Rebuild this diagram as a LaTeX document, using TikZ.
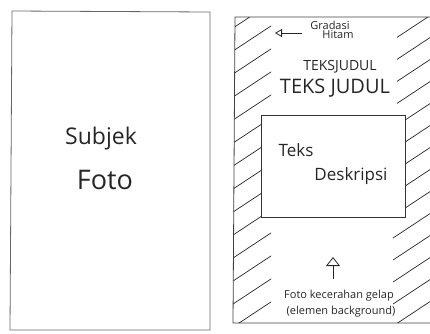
\documentclass[tikz,border=0pt]{standalone}
\usepackage{fontspec}
\setmainfont{Open Sans}
\usetikzlibrary{arrows.meta}
\begin{document}
\begin{tikzpicture}[x=1pt,y=-1pt,
  panel/.style={draw=black!75,line width=0.8pt},
  hatch/.style={draw=black!85,line width=0.7pt},
  lbl/.style={inner sep=0pt,text=black!85},
  pointer/.style={draw=black!85,line width=0.8pt,-{Triangle[open,length=9pt,width=14pt]}},
  lpointer/.style={draw=black!85,line width=0.8pt,-{Triangle[open,length=7pt,width=8pt]}}]
\useasboundingbox (0,0) rectangle (430,333);
% left panel
\draw[panel,draw=black!60] (12,11) -- (210,12) -- (210,330) -- (10,330) -- cycle;
\node[lbl,font=\fontsize{23}{23}\selectfont] (subjek) at (101,139) {Subjek};
\node[lbl,font=\fontsize{27}{27}\selectfont] (foto) at (105,180) {Foto};
% right panel
\draw[panel] (430,17) -- (235,17) -- (233,323) -- (430,323);
\node[panel,draw=black!80,minimum width=144pt,minimum height=102pt,inner sep=0pt] (box) at (333,166) {};
% hatching left strip
\begin{scope}
\clip (235,17) -- (271,17) -- (271,115) -- (261,115) -- (261,217) -- (271,217) -- (271,323) -- (233,323) -- cycle;
\foreach \y in {30,53,76,99,122,145,168,191,214,237,260,283,306,329,352}
  \draw[hatch] (230,\y) -- (280,\y-33);
\end{scope}
% hatching right strip
\begin{scope}
\clip (397,17) -- (430,17) -- (430,323) -- (393,323) -- (393,217) -- (405,217) -- (405,115) -- (397,115) -- cycle;
\foreach \y in {42,64,86,108,130,152,174,196,218,240,262,284,306,328,350}
  \draw[hatch] (390,\y) -- (440,\y-33);
\end{scope}
% labels
\node[lbl,font=\fontsize{11}{11}\selectfont] (gradasi) at (330,25) {Gradasi};
\node[lbl,font=\fontsize{11}{11}\selectfont] (hitam) at (338,35) {Hitam};
\coordinate (gtail) at (302,33);
\coordinate (ghead) at (275,33);
\draw[lpointer] (gtail) -- (ghead);
\node[lbl,font=\fontsize{14}{14}\selectfont] (judul1) at (340,67) {TEKSJUDUL};
\node[lbl,font=\fontsize{20}{20}\selectfont] (judul2) at (335,88) {TEKS JUDUL};
\node[lbl,font=\fontsize{17}{17}\selectfont] (teks) at (296,150) {Teks};
\node[lbl,font=\fontsize{17}{17}\selectfont] (desk) at (351,176) {Deskripsi};
\node[lbl,font=\fontsize{11}{11}\selectfont] (foto2) at (339,296) {Foto kecerahan gelap};
\node[lbl,font=\fontsize{11}{11}\selectfont] (elemen) at (341,312) {(elemen background)};
\coordinate (utail) at (333,279);
\coordinate (uhead) at (333,257);
\draw[pointer] (utail) -- (uhead);
\end{tikzpicture}
\end{document}
